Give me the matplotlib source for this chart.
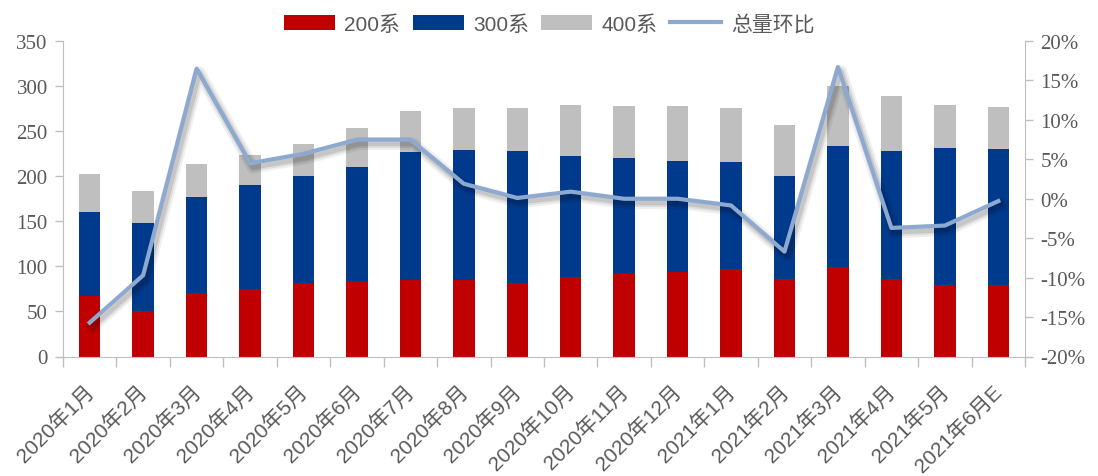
import matplotlib
matplotlib.use("Agg")
import matplotlib.pyplot as plt
import matplotlib.patheffects as pe
import matplotlib.transforms as mtransforms
from matplotlib.lines import Line2D
from matplotlib.ticker import FuncFormatter, FixedLocator
import numpy as np

categories = ["2020年1月", "2020年2月", "2020年3月", "2020年4月", "2020年5月", "2020年6月",
              "2020年7月", "2020年8月", "2020年9月", "2020年10月", "2020年11月", "2020年12月",
              "2021年1月", "2021年2月", "2021年3月", "2021年4月", "2021年5月", "2021年6月E"]
s200 = [67, 50, 70, 75, 81, 84, 85, 85, 81, 88, 92, 94, 97, 86, 99, 86, 79, 79]
s300 = [93, 98, 107, 115, 119, 126, 142, 144, 147, 134, 128, 123, 119, 114, 134, 142, 152, 151]
s400 = [43, 36, 37, 33, 36, 43, 45, 47, 48, 57, 58, 61, 60, 57, 67, 61, 48, 47]
mom = [-15.7, -9.7, 16.5, 4.5, 5.7, 7.5, 7.5, 1.9, 0.1, 0.9, 0.0, 0.0, -0.85, -6.7, 16.7, -3.7, -3.4, -0.3]

RED = "#C00000"
BLUE = "#003A8C"
GRAY = "#BFBFBF"
LINE = "#8EA9D0"
AXC = "#BFBFBF"
TXT = "#595959"

plt.rcParams['font.family'] = ['Liberation Sans', 'Noto Sans CJK SC', 'DejaVu Sans']

W, H = 1098, 477
fig = plt.figure(figsize=(W / 100, H / 100), dpi=100)
ax = fig.add_axes([63 / W, 1 - 357.5 / H, (1025 - 63) / W, (357.5 - 42) / H])
x = np.arange(len(categories))
w = 0.4
b1 = ax.bar(x, s200, w, color=RED, label="200系", zorder=2)
b2 = ax.bar(x, s300, w, bottom=s200, color=BLUE, label="300系", zorder=2)
bot3 = np.array(s200) + np.array(s300)
b3 = ax.bar(x, s400, w, bottom=bot3, color=GRAY, label="400系", zorder=2)

ax.set_xlim(-0.5, len(categories) - 0.5)
ax.set_ylim(0, 350)
ax.set_yticks(range(0, 351, 50))
ax.tick_params(axis='y', labelsize=15, colors=TXT, length=6, color=AXC, width=1, pad=5,
               labelfontfamily='Liberation Serif')
ax.xaxis.set_major_locator(FixedLocator(x))
ax.tick_params(axis='x', length=0, pad=19)
ax.set_xticks(np.arange(-0.5, len(categories), 1), minor=True)
ax.tick_params(axis='x', which='minor', length=7, color=AXC, width=1)
ax.set_xticklabels(categories, rotation=45, ha='right', va='top', rotation_mode='anchor',
                   fontsize=15, color=TXT)
ax.spines['top'].set_visible(False)
ax.spines['right'].set_visible(False)
ax.spines['left'].set_color(AXC)
ax.spines['bottom'].set_color(AXC)

ax2 = ax.twinx()
ax2.set_ylim(-20, 20)
ax2.set_yticks(range(-20, 21, 5))
ax2.yaxis.set_major_formatter(FuncFormatter(lambda v, p: f"{int(v)}%"))
ax2.tick_params(axis='y', labelsize=15, colors=TXT, length=6, color=AXC, width=1, pad=5,
                labelfontfamily='Liberation Serif')
for s in ['top', 'left', 'bottom']:
    ax2.spines[s].set_visible(False)
ax2.spines['right'].set_color(AXC)
shadow = [
    pe.SimpleLineShadow(offset=(2, -3), shadow_color='#000000', alpha=0.06, linewidth=9),
    pe.SimpleLineShadow(offset=(2, -3), shadow_color='#000000', alpha=0.08, linewidth=6),
    pe.SimpleLineShadow(offset=(2, -3), shadow_color='#000000', alpha=0.10, linewidth=3.5),
    pe.Normal(),
]
ln, = ax2.plot(x, mom, color=LINE, lw=3, label="总量环比", zorder=3, path_effects=shadow)

legend_line = Line2D([], [], color=LINE, lw=3)
handles = [b1, b2, b3, legend_line]
leg = fig.legend(handles, ["200系", "300系", "400系", "总量环比"], loc='center',
                 bbox_to_anchor=(0.5, 1 - 25 / H), ncol=4, frameon=False, fontsize=15,
                 handlelength=2.45, handleheight=0.75, columnspacing=0.6, handletextpad=0.45)
for t in leg.get_texts():
    t.set_color(TXT)

shift = mtransforms.ScaledTranslation(-6 / 100, 2 / 100, fig.dpi_scale_trans)
for lbl in ax.get_xticklabels():
    lbl.set_transform(lbl.get_transform() + shift)

fig.savefig("out.png", dpi=100)
